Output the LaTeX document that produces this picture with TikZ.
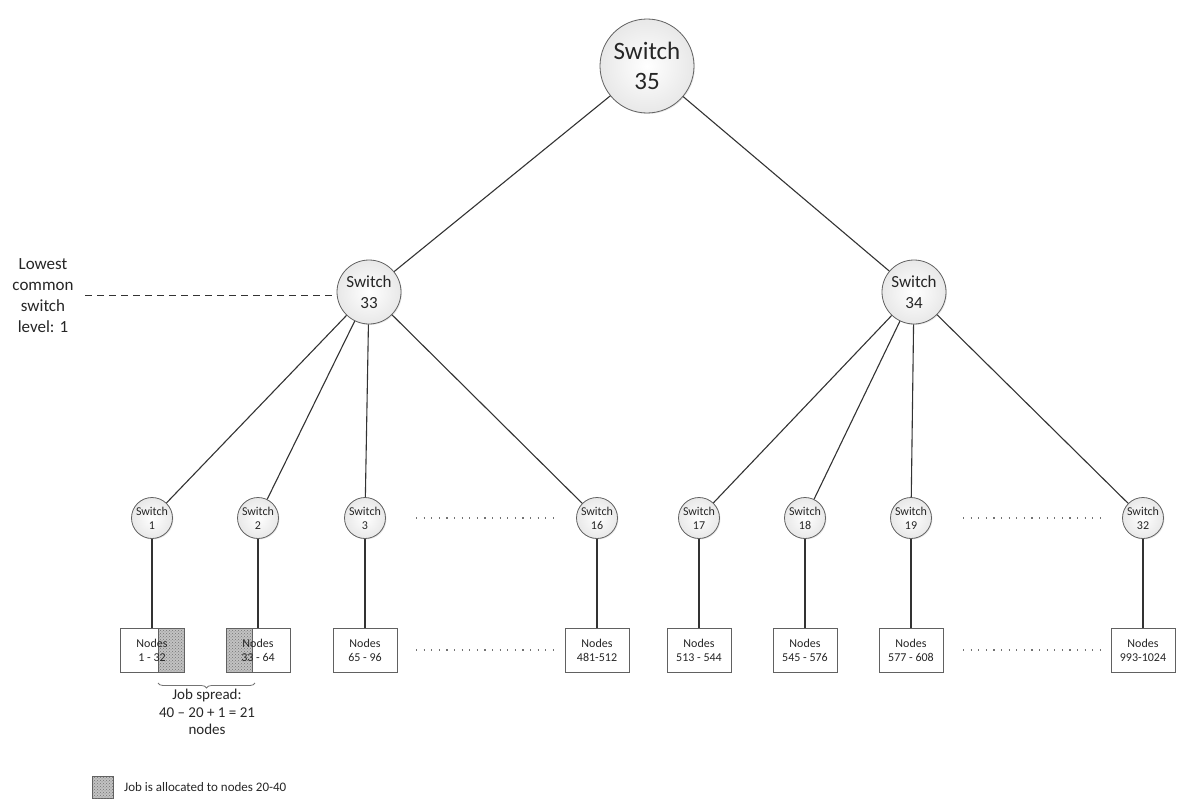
\documentclass[tikz,border=0pt]{standalone}
\usepackage{fontspec}
\setmainfont{Carlito}
\usetikzlibrary{patterns,shadows,decorations.pathreplacing,calc}
\begin{document}
\begin{tikzpicture}[x=1pt,y=-1pt,
  wire/.style={draw=black!80, line width=1.1pt},
  sw/.style={circle, draw=black!62, line width=0.8pt, inner sep=0pt, align=center,
    text=black!85, inner color=white, outer color=black!9,
    drop shadow={opacity=0.18, shadow xshift=1pt, shadow yshift=-1pt}},
  bigsw/.style={sw, minimum size=94pt, font=\fontsize{25}{30}\selectfont},
  midsw/.style={sw, minimum size=64pt, font=\fontsize{17}{21}\selectfont},
  smallsw/.style={sw, minimum size=41pt, font=\fontsize{12}{14}\selectfont},
  nodebox/.style={rectangle, draw=black!62, line width=0.8pt, fill=white, align=center,
    minimum width=64pt, minimum height=44pt, inner sep=0pt, text=black!85,
    font=\fontsize{12}{14}\selectfont,
    drop shadow={opacity=0.2, shadow xshift=1.2pt, shadow yshift=-1.2pt}},
  hatch/.style={fill=black!24, postaction={pattern=crosshatch dots, pattern color=black!55}},
  jobright/.style={path picture={\path[hatch] ([xshift=-26pt]path picture bounding box.north east)
    rectangle (path picture bounding box.south east);
    \draw[black!62, line width=0.8pt] ([xshift=-26pt]path picture bounding box.north east)
    -- ([xshift=-26pt]path picture bounding box.south east);}},
  jobleft/.style={path picture={\path[hatch] (path picture bounding box.north west)
    rectangle ([xshift=26pt]path picture bounding box.south west);
    \draw[black!62, line width=0.8pt] ([xshift=26pt]path picture bounding box.north west)
    -- ([xshift=26pt]path picture bounding box.south west);}},
  gap/.style={draw=black!55, line width=1.1pt, dash pattern=on 1.1pt off 6.5pt},
  lvlline/.style={draw=black!80, line width=1pt, dash pattern=on 7pt off 5pt},
  label/.style={align=center, text=black!85}
]
\useasboundingbox (0,0) rectangle (1179,800);

% core, aggregation and edge switches
\node[bigsw] (s35) at (647,66) {Switch\\35};
\node[midsw] (s33) at (369,292) {Switch\\33};
\node[midsw] (s34) at (914,292) {Switch\\34};

\foreach \n/\x in {1/152, 2/258, 3/365, 16/597, 17/699, 18/805, 19/911, 32/1143}
  \node[smallsw] (e\n) at (\x,518) {Switch\\\n};

% compute node groups; the job covers the end of group 1 and the start of group 2
\node[nodebox, jobright] (b1)  at (152,650)  {Nodes\\1 - 32};
\node[nodebox, jobleft]  (b2)  at (258,650)  {Nodes\\33 - 64};
\node[nodebox] (b3)  at (365,650)  {Nodes\\65 - 96};
\node[nodebox] (b16) at (597,650)  {Nodes\\481-512};
\node[nodebox] (b17) at (699,650)  {Nodes\\513 - 544};
\node[nodebox] (b18) at (805,650)  {Nodes\\545 - 576};
\node[nodebox] (b19) at (911,650)  {Nodes\\577 - 608};
\node[nodebox] (b32) at (1143,650) {Nodes\\993-1024};

% links
\draw[wire] (s35) -- (s33);
\draw[wire] (s35) -- (s34);
\foreach \n in {1,2,3,16} \draw[wire] (s33) -- (e\n);
\foreach \n in {17,18,19,32} \draw[wire] (s34) -- (e\n);
\foreach \n in {1,2,3,16,17,18,19,32} \draw[wire] (e\n) -- (b\n);

% elided switches and node groups
\draw[gap] ([xshift=51pt]e3.center) -- ([xshift=-44pt]e16.center);
\draw[gap] ([xshift=51pt]b3.center) -- ([xshift=-44pt]b16.center);
\draw[gap] ([xshift=52pt]e19.center) -- ([xshift=-43pt]e32.center);
\draw[gap] ([xshift=52pt]b19.center) -- ([xshift=-43pt]b32.center);

% lowest common switch marker
\node[label, font=\fontsize{17}{21}\selectfont] (lcs) at (43,296) {Lowest\\common\\switch\\level: 1};
\coordinate (lcsend) at (85,295);
\draw[lvlline] (lcsend) -- (s33.west |- lcsend);

% job spread brace
\coordinate (brl) at (158,683);
\coordinate (brr) at (255,683);
\draw[black!55, line width=0.8pt, decorate, decoration={brace, amplitude=5pt, mirror}] (brl) -- (brr);
\node[label, font=\fontsize{15}{17.5}\selectfont] (spread) at (207,712) {Job spread:\\40 – 20 + 1 = 21\\nodes};

% legend
\node[rectangle, draw=black!62, line width=0.8pt, minimum width=21pt, minimum height=22pt,
  inner sep=0pt, hatch] (leg) at (102.5,787) {};
\node[anchor=west, text=black!85, font=\fontsize{13}{15}\selectfont, inner sep=0pt] (legtxt) at (124,787) {Job is allocated to nodes 20-40};
\end{tikzpicture}
\end{document}
